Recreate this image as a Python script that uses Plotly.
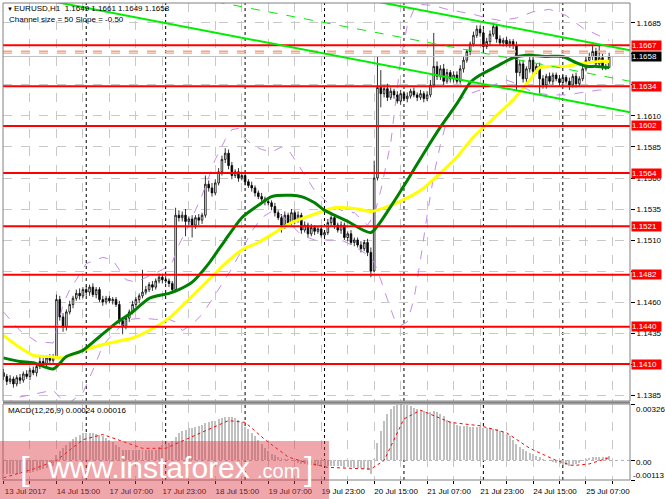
import plotly.graph_objects as go

# ---------------- data ----------------
tick_bars = [0, 16, 32, 48, 64, 80, 96, 112, 128, 144, 160, 176]
tick_labels = ["13 Jul 2017", "14 Jul 15:00", "17 Jul 07:00", "17 Jul 23:00",
               "18 Jul 15:00", "19 Jul 07:00", "19 Jul 23:00", "20 Jul 15:00",
               "21 Jul 07:00", "21 Jul 23:00", "24 Jul 15:00", "25 Jul 07:00"]
grid_bars = [0, 8, 16, 24, 32, 40, 48, 56, 64, 72, 80, 88, 96, 104, 112, 120,
             128, 136, 144, 152, 160, 168, 176, 184]
separator_bars = [25, 49, 73, 97, 121, 145, 169]
price_ticks = [1.1385, 1.1410, 1.1435, 1.1460, 1.1485, 1.1510, 1.1535,
               1.1560, 1.1585, 1.1610, 1.1635, 1.1660, 1.1685]
hidden_price_ticks = [1.1410, 1.1485, 1.1635, 1.1660]   # covered by level boxes
levels = [1.1667, 1.1634, 1.1602, 1.1564, 1.1521, 1.1482, 1.1440, 1.1410]
bid_price = 1.1658
salmon_price = 1.1662

first_open = 1.1403
close = [
    1.1400, 1.1396, 1.1398, 1.1394, 1.1399, 1.1397, 1.1402, 1.1400, 1.1405, 1.1403, 1.1408, 1.1412, 1.1410, 1.1415, 1.1413, 1.1416,
    1.1462, 1.1448, 1.1440, 1.1452, 1.1458, 1.1463, 1.1467, 1.1465, 1.1470, 1.1468, 1.1472, 1.1466, 1.1470, 1.1462, 1.1460, 1.1463,
    1.1461, 1.1462, 1.1458, 1.1445, 1.1440, 1.1447, 1.1452, 1.1458, 1.1462, 1.1465, 1.1468, 1.1470, 1.1474, 1.1472, 1.1477, 1.1480,
    1.1478, 1.1477, 1.1475, 1.1470, 1.1530, 1.1528, 1.1530, 1.1525, 1.1527, 1.1522, 1.1528, 1.1526, 1.1530, 1.1555, 1.1552, 1.1548,
    1.1556, 1.1565, 1.1575, 1.1580, 1.1570, 1.1562, 1.1565, 1.1560, 1.1562, 1.1557, 1.1554, 1.1552, 1.1548, 1.1545, 1.1543, 1.1541,
    1.1540, 1.1537, 1.1532, 1.1528, 1.1522, 1.1530, 1.1524, 1.1532, 1.1526, 1.1530, 1.1518, 1.1522, 1.1515, 1.1520, 1.1517, 1.1519,
    1.1514, 1.1516, 1.1524, 1.1528, 1.1522, 1.1518, 1.1522, 1.1512, 1.1515, 1.1508, 1.1510, 1.1506, 1.1503, 1.1508, 1.1500, 1.1485,
    1.1560, 1.1633, 1.1628, 1.1632, 1.1625, 1.1630, 1.1627, 1.1622, 1.1628, 1.1624, 1.1626, 1.1630, 1.1627, 1.1625, 1.1628, 1.1624,
    1.1627, 1.1635, 1.1650, 1.1642, 1.1648, 1.1638, 1.1645, 1.1640, 1.1643, 1.1638, 1.1648, 1.1655, 1.1662, 1.1668, 1.1675, 1.1680,
    1.1677, 1.1666, 1.1670, 1.1676, 1.1682, 1.1672, 1.1669, 1.1671, 1.1668, 1.1670, 1.1667, 1.1645, 1.1652, 1.1640, 1.1648, 1.1655,
    1.1646, 1.1650, 1.1640, 1.1635, 1.1642, 1.1638, 1.1643, 1.1640, 1.1637, 1.1641, 1.1638, 1.1635, 1.1642, 1.1636, 1.1640, 1.1648,
    1.1655, 1.1658, 1.1662, 1.1652, 1.1657, 1.1650, 1.1649, 1.1658]
upper_wick_pips = [
    3, 2, 3, 2, 2, 3, 2, 3, 2, 3, 2, 4, 3, 2, 3, 2,
    4, 3, 3, 2, 3, 2, 3, 4, 2, 3, 2, 3, 2, 2, 3, 2,
    2, 2, 2, 3, 2, 2, 2, 3, 2, 2, 18, 3, 2, 3, 2, 3,
    2, 3, 2, 2, 6, 4, 3, 5, 2, 3, 2, 3, 2, 7, 3, 4,
    3, 3, 3, 4, 3, 3, 2, 3, 2, 3, 2, 3, 2, 2, 3, 2,
    2, 2, 3, 2, 3, 3, 2, 3, 2, 3, 2, 3, 2, 3, 2, 2,
    3, 2, 3, 2, 3, 2, 3, 2, 2, 3, 2, 2, 3, 2, 3, 4,
    14, 25, 14, 3, 4, 3, 2, 3, 3, 2, 3, 2, 3, 2, 3, 2,
    3, 4, 27, 4, 3, 4, 3, 2, 3, 3, 3, 3, 2, 2, 3, 3,
    3, 3, 3, 3, 3, 2, 3, 2, 3, 2, 2, 3, 3, 3, 2, 3,
    3, 2, 3, 3, 2, 3, 2, 2, 3, 2, 2, 3, 2, 3, 2, 3,
    3, 3, 5, 3, 10, 3, 2, 3]
lower_wick_pips = [
    3, 3, 2, 3, 2, 3, 2, 2, 3, 2, 3, 2, 2, 3, 2, 2,
    0, 3, 4, 3, 2, 3, 2, 3, 2, 3, 3, 2, 3, 2, 3, 2,
    2, 3, 2, 3, 6, 2, 3, 2, 2, 3, 2, 2, 2, 3, 2, 2,
    3, 2, 3, 3, 1, 3, 3, 12, 3, 10, 3, 4, 3, 2, 3, 3,
    2, 2, 3, 3, 3, 3, 2, 3, 2, 3, 2, 3, 3, 2, 2, 3,
    2, 3, 3, 2, 6, 3, 3, 2, 3, 2, 3, 2, 3, 2, 3, 2,
    2, 3, 2, 3, 3, 2, 3, 2, 3, 2, 3, 2, 3, 2, 3, 5,
    1, 2, 11, 3, 3, 2, 3, 2, 3, 2, 3, 2, 2, 3, 2, 3,
    2, 2, 2, 3, 3, 3, 2, 3, 3, 2, 2, 3, 2, 3, 2, 2,
    3, 3, 2, 3, 2, 3, 2, 3, 2, 3, 3, 15, 3, 3, 3, 3,
    3, 2, 12, 3, 3, 2, 3, 2, 3, 3, 2, 4, 2, 3, 2, 2,
    2, 3, 3, 2, 3, 3, 2, 0]

ma_green_bars = [0, 5, 9, 15, 19, 24, 29, 34, 39, 44, 50, 53, 57, 62, 67, 72, 77, 81, 87, 90,
                 94, 97, 104, 111, 117, 122, 127, 132, 137, 141, 144, 149, 154, 159, 164, 169, 173, 176, 179, 183]
ma_green = [1.1415, 1.1412, 1.1411, 1.1406, 1.1416, 1.1421, 1.1432, 1.1443, 1.1452, 1.1463,
            1.1467, 1.1470, 1.1476, 1.1491, 1.1510, 1.1528, 1.1538, 1.1545, 1.1546, 1.1545,
            1.1540, 1.1534, 1.1525, 1.1516, 1.1537, 1.1558, 1.1580, 1.1601, 1.1620, 1.1637,
            1.1643, 1.1650, 1.1657, 1.1659, 1.1658, 1.1658, 1.1653, 1.1650, 1.1650, 1.1649]
ma_yellow_bars = [0, 4, 9, 14, 18, 24, 29, 34, 39, 44, 50, 59, 67, 72, 77, 82, 87, 92, 100, 107,
                  111, 117, 122, 127, 132, 137, 142, 148, 154, 159, 162, 166, 170, 174, 177, 180, 183]
ma_yellow = [1.1433, 1.1425, 1.1417, 1.1416, 1.1415, 1.1421, 1.1425, 1.1428, 1.1431, 1.1437,
             1.1447, 1.1470, 1.1491, 1.1502, 1.1508, 1.1516, 1.1524, 1.1529, 1.1536, 1.1535,
             1.1533, 1.1538, 1.1544, 1.1552, 1.1564, 1.1577, 1.1593, 1.1608, 1.1623, 1.1639,
             1.1649, 1.1650, 1.1650, 1.1652, 1.1653, 1.1654, 1.1654]
band_up_bars = [0, 5, 10, 15, 18, 20, 22, 25, 30, 33, 37, 40, 44, 48, 51, 53, 56, 60, 64, 67,
                69, 71, 73, 75, 78, 81, 84, 86, 88, 91, 94, 98, 102, 106, 110, 112, 114, 117, 120, 122,
                124, 126, 130, 134, 138, 142, 146, 150, 155, 160, 165, 170, 175, 180, 183]
band_up = [1.1452, 1.1437, 1.1428, 1.1427, 1.1458, 1.1470, 1.1478, 1.1491, 1.1496, 1.1494,
           1.1478, 1.1476, 1.1481, 1.1486, 1.1492, 1.1506, 1.1522, 1.1546, 1.1575, 1.1591,
           1.1599, 1.1600, 1.1592, 1.1587, 1.1583, 1.1581, 1.1585, 1.1583, 1.1575, 1.1562,
           1.1550, 1.1540, 1.1534, 1.1532, 1.1522, 1.1530, 1.1550, 1.1588, 1.1655, 1.1683,
           1.1696, 1.1700, 1.1699, 1.1696, 1.1694, 1.1692, 1.1689, 1.1687, 1.1689, 1.1694,
           1.1696, 1.1691, 1.1681, 1.1675, 1.1671]
band_lo_bars = [0, 4, 8, 12, 15, 17, 20, 24, 27, 30, 34, 38, 42, 46, 50, 52, 54, 57, 60, 63,
                66, 69, 72, 75, 78, 81, 84, 87, 90, 94, 98, 102, 106, 110, 112, 114, 116, 118, 120, 122,
                124, 126, 128, 130, 132, 134, 137, 140, 144, 148, 152, 156, 160, 165, 170, 175, 180, 183]
band_lo = [1.1377, 1.1383, 1.1385, 1.1387, 1.1389, 1.1383, 1.1379, 1.1387, 1.1405, 1.1425,
           1.1437, 1.1446, 1.1447, 1.1446, 1.1446, 1.1444, 1.1437, 1.1442, 1.1450, 1.1462,
           1.1474, 1.1487, 1.1502, 1.1517, 1.1528, 1.1533, 1.1530, 1.1522, 1.1514, 1.1510,
           1.1510, 1.1510, 1.1505, 1.1498, 1.1492, 1.1478, 1.1462, 1.1447, 1.1441, 1.1444,
           1.1462, 1.1494, 1.1530, 1.1562, 1.1587, 1.1607, 1.1621, 1.1627, 1.1631, 1.1635,
           1.1639, 1.1635, 1.1629, 1.1627, 1.1627, 1.1629, 1.1631, 1.1631]

channel_bars = [0, 189.3]
channel_lower = [1.1710, 1.1613]
channel_size = 0.0050

macd_hist_e5 = [
    -75, -78, -80, -80, -78, -76, -74, -72, -70, -66, -62, -58, -52, -46, -40, -30,
    30, 55, 72, 90, 108, 122, 138, 148, 156, 160, 160, 158, 155, 148, 140, 130,
    120, 105, 90, 75, 62, 58, 58, 58, 60, 60, 60, 60, 62, 62, 62, 75,
    88, 95, 102, 110, 135, 160, 170, 178, 185, 190, 195, 200, 205, 215, 220, 225,
    230, 238, 245, 250, 252, 250, 245, 235, 220, 195, 180, 160, 140, 118, 95, 72,
    55, 40, 30, 22, 15, 10, 6, 2, -5, -12, -18, -22, -25, -28, -30, -30,
    -32, -32, -32, -30, -30, -32, -33, -36, -38, -40, -42, -44, -46, -50, -55, -80,
    10, 100, 170, 230, 270, 300, 315, 322, 325, 322, 318, 312, 305, 298, 292, 285,
    280, 280, 285, 280, 270, 255, 235, 225, 215, 205, 200, 200, 198, 196, 195, 195,
    193, 190, 188, 185, 182, 180, 172, 165, 155, 140, 120, 95, 80, 68, 55, 45,
    35, 25, 18, 10, 5, 0, -8, -15, -20, -25, -28, -30, -28, -22, -12, -2,
    8, 15, 20, 22, 22, 20, 18, 24]
signal_bars = [0, 9, 16, 24, 30, 36, 42, 49, 55, 63, 68, 73, 79, 86, 91, 98, 111, 115, 121, 126,
               135, 144, 152, 159, 167, 172, 177, 183]
signal_e5 = [-100, -50, 0, 120, 150, 110, 70, 70, 120, 190, 230, 220, 120, 20, -10, -40, -50, 0, 240, 290,
             220, 200, 160, 70, 0, -30, -20, 16]
macd_top, macd_bottom = 0.00326, -0.00113

# ---------------- derived OHLC ----------------
n = len(close)
bars = list(range(n))
opens = [first_open] + close[:-1]
highs = [max(o, c) + u * 1e-4 for o, c, u in zip(opens, close, upper_wick_pips)]
lows = [min(o, c) - l * 1e-4 for o, c, l in zip(opens, close, lower_wick_pips)]
macd_hist = [v * 1e-5 for v in macd_hist_e5]
signal = [v * 1e-5 for v in signal_e5]

# ---------------- layout geometry ----------------
W, H = 665, 499
ML, MR, MT, MB = 3, 33, 3, 19
PW, PH = W - ML - MR, H - MT - MB


def px_x(px):
    return (px - ML) / PW


def px_y(py):
    return (H - MB - py) / PH


main_dom = [px_y(401), 1.0]
macd_dom = [0.0, px_y(404)]
xr = [-0.15, 189.3]
FONT = "Liberation Sans, Arial, sans-serif"

fig = go.Figure()

# candles
fig.add_trace(go.Candlestick(
    x=bars, open=opens, high=highs, low=lows, close=close,
    increasing=dict(line=dict(color="black", width=0.8), fillcolor="white"),
    decreasing=dict(line=dict(color="black", width=0.8), fillcolor="black"),
    whiskerwidth=0, xaxis="x", yaxis="y", hoverinfo="skip", showlegend=False))

# purple bands
for bx, by in ((band_up_bars, band_up), (band_lo_bars, band_lo)):
    fig.add_trace(go.Scatter(x=bx, y=by, mode="lines", xaxis="x", yaxis="y",
                             line=dict(color="#c58ae6", width=1, dash="dash"),
                             hoverinfo="skip", showlegend=False))

# moving averages
fig.add_trace(go.Scatter(x=ma_yellow_bars, y=ma_yellow, mode="lines", xaxis="x", yaxis="y",
                         line=dict(color="#ffff00", width=3, shape="spline", smoothing=0.6),
                         hoverinfo="skip", showlegend=False))
fig.add_trace(go.Scatter(x=ma_green_bars, y=ma_green, mode="lines", xaxis="x", yaxis="y",
                         line=dict(color="#008000", width=3, shape="spline", smoothing=0.6),
                         hoverinfo="skip", showlegend=False))

# salmon line and bid line
fig.add_trace(go.Scatter(x=xr, y=[salmon_price, salmon_price], mode="lines", xaxis="x", yaxis="y",
                         line=dict(color="#f4a583", width=2, dash="dash"),
                         hoverinfo="skip", showlegend=False))
fig.add_trace(go.Scatter(x=xr, y=[bid_price, bid_price], mode="lines", xaxis="x", yaxis="y",
                         line=dict(color="#c0c0c0", width=1),
                         hoverinfo="skip", showlegend=False))

# red levels
for lv in levels:
    fig.add_trace(go.Scatter(x=xr, y=[lv, lv], mode="lines", xaxis="x", yaxis="y",
                             line=dict(color="#ff0000", width=2),
                             hoverinfo="skip", showlegend=False))

# channel
for k, dash, wdt in ((0, "solid", 2), (0.5, "dash", 1), (1, "solid", 2)):
    fig.add_trace(go.Scatter(x=channel_bars,
                             y=[p + k * channel_size for p in channel_lower],
                             mode="lines", xaxis="x", yaxis="y",
                             line=dict(color="#00ee00", width=wdt, dash=dash),
                             hoverinfo="skip", showlegend=False))

# MACD
fig.add_trace(go.Bar(x=bars, y=macd_hist, xaxis="x2", yaxis="y2", width=0.6,
                     marker=dict(color="#c0c0c0", line=dict(width=0)),
                     hoverinfo="skip", showlegend=False))
fig.add_trace(go.Scatter(x=signal_bars, y=signal, mode="lines", xaxis="x2", yaxis="y2",
                         line=dict(color="#ff0000", width=1, dash="dot"),
                         hoverinfo="skip", showlegend=False))

shapes = []
# period separators
for b in separator_bars:
    for xa, ya in (("x", "y domain"), ("x2", "y2 domain")):
        shapes.append(dict(type="line", xref=xa, yref=ya, x0=b, x1=b, y0=0, y1=1,
                           line=dict(color="black", width=1, dash="dot"), layer="below"))
# macd zero line
shapes.append(dict(type="line", xref="x2 domain", yref="y2", x0=0, x1=1, y0=0, y1=0,
                   line=dict(color="#b0b0b0", width=1, dash="dot"), layer="below"))
# frames
for d in (main_dom, macd_dom):
    shapes.append(dict(type="rect", xref="paper", yref="paper", x0=0, x1=1, y0=d[0], y1=d[1],
                       line=dict(color="#808080", width=1), layer="above"))
shapes.append(dict(type="line", xref="paper", yref="paper", x0=0, x1=1,
                   y0=px_y(402.5), y1=px_y(402.5), line=dict(color="#808080", width=2), layer="above"))
# watermark band
shapes.append(dict(type="rect", xref="paper", yref="paper", x0=px_x(0), x1=px_x(330),
                   y0=px_y(499), y1=px_y(441), fillcolor="rgba(220,60,70,0.45)",
                   line=dict(width=0), layer="above"))

ann = []
# level labels
for lv in levels:
    ann.append(dict(xref="paper", yref="y", x=1, y=lv, xanchor="left", yanchor="middle",
                    xshift=1, text=f"{lv:.4f}", showarrow=False, bgcolor="#ff0000",
                    font=dict(family=FONT, size=8, color="white"), borderpad=0, width=29, align="left"))
ann.append(dict(xref="paper", yref="y", x=1, y=bid_price, xanchor="left", yanchor="middle",
                xshift=1, text=f"{bid_price:.4f}", showarrow=False, bgcolor="black",
                font=dict(family=FONT, size=8, color="white"), borderpad=0, width=29, align="left"))
# titles
ann.append(dict(xref="paper", yref="paper", x=px_x(5), y=px_y(9), xanchor="left", yanchor="middle",
                text="▼", showarrow=False, font=dict(family=FONT, size=6, color="black")))
ann.append(dict(xref="paper", yref="paper", x=px_x(12), y=px_y(9), xanchor="left", yanchor="middle",
                text="EURUSD,H1  1.1649 1.1661 1.1649 1.1658", showarrow=False,
                font=dict(family=FONT, size=8, color="black")))
ann.append(dict(xref="paper", yref="paper", x=px_x(7), y=px_y(19.5), xanchor="left", yanchor="middle",
                text="Channel size = 50 Slope = -0.50", showarrow=False,
                font=dict(family=FONT, size=8, color="black")))
ann.append(dict(xref="paper", yref="paper", x=px_x(6), y=px_y(410), xanchor="left", yanchor="middle",
                text="MACD(12,26,9) 0.00024 0.00016", showarrow=False,
                font=dict(family=FONT, size=8, color="black")))
# macd scale labels
for txt, py, xpx in (("0.00326", 409, 636), ("0.00", 462, 636), ("-0.00113", 475, 633)):
    ann.append(dict(xref="paper", yref="paper", x=px_x(xpx), y=px_y(py), xanchor="left",
                    yanchor="middle", text=txt, showarrow=False,
                    font=dict(family=FONT, size=8, color="black")))
# watermark text
ann.append(dict(xref="paper", yref="paper", x=px_x(18), y=px_y(468), xanchor="left", yanchor="middle",
                text="[", showarrow=False, font=dict(family=FONT, size=34, color="white")))
ann.append(dict(xref="paper", yref="paper", x=px_x(45), y=px_y(467), xanchor="left", yanchor="middle",
                text="www.instaforex", showarrow=False, font=dict(family=FONT, size=30, color="white")))
ann.append(dict(xref="paper", yref="paper", x=px_x(256), y=px_y(471), xanchor="left", yanchor="middle",
                text=".com", showarrow=False, font=dict(family=FONT, size=20, color="white")))
ann.append(dict(xref="paper", yref="paper", x=px_x(303), y=px_y(468), xanchor="left", yanchor="middle",
                text="]", showarrow=False, font=dict(family=FONT, size=34, color="white")))

xtext = [tick_labels[tick_bars.index(b)] if b in tick_bars else "" for b in grid_bars]
ytext = ["" if v in hidden_price_ticks else f"{v:.4f}" for v in price_ticks]

fig.update_layout(
    width=W, height=H, margin=dict(l=ML, r=MR, t=MT, b=MB),
    paper_bgcolor="white", plot_bgcolor="white", showlegend=False,
    font=dict(family=FONT, size=8, color="black"),
    bargap=0,
    xaxis=dict(domain=[0, 1], anchor="y", range=xr, tickvals=grid_bars, showticklabels=False,
               ticks="", showgrid=True, gridcolor="#c8c8c8", griddash="dash", gridwidth=1,
               zeroline=False, rangeslider=dict(visible=False), fixedrange=True),
    yaxis=dict(domain=main_dom, anchor="x", range=[1.13802, 1.17011], side="right",
               tickvals=price_ticks, ticktext=ytext,
               ticks="outside", ticklen=4, tickcolor="black", showgrid=True,
               gridcolor="#c8c8c8", griddash="dash", gridwidth=1, zeroline=False,
               tickfont=dict(family=FONT, size=8, color="black")),
    xaxis2=dict(domain=[0, 1], anchor="y2", range=xr, tickvals=grid_bars, ticktext=xtext,
                ticks="outside", ticklen=3, tickcolor="black", ticklabelshift=22,
                showgrid=True, gridcolor="#c8c8c8", griddash="dash", gridwidth=1,
                zeroline=False, tickfont=dict(family=FONT, size=8, color="black")),
    yaxis2=dict(domain=macd_dom, anchor="x2", range=[macd_bottom, macd_top], side="right",
                tickvals=[macd_top, 0, macd_bottom], showticklabels=False, ticks="outside",
                ticklen=4, tickcolor="black", showgrid=False, zeroline=False),
    shapes=shapes, annotations=ann,
)

fig.write_html("out.html", config={"displayModeBar": False, "staticPlot": True},
               post_script="document.body.style.margin='0';document.body.style.overflow='hidden';")
